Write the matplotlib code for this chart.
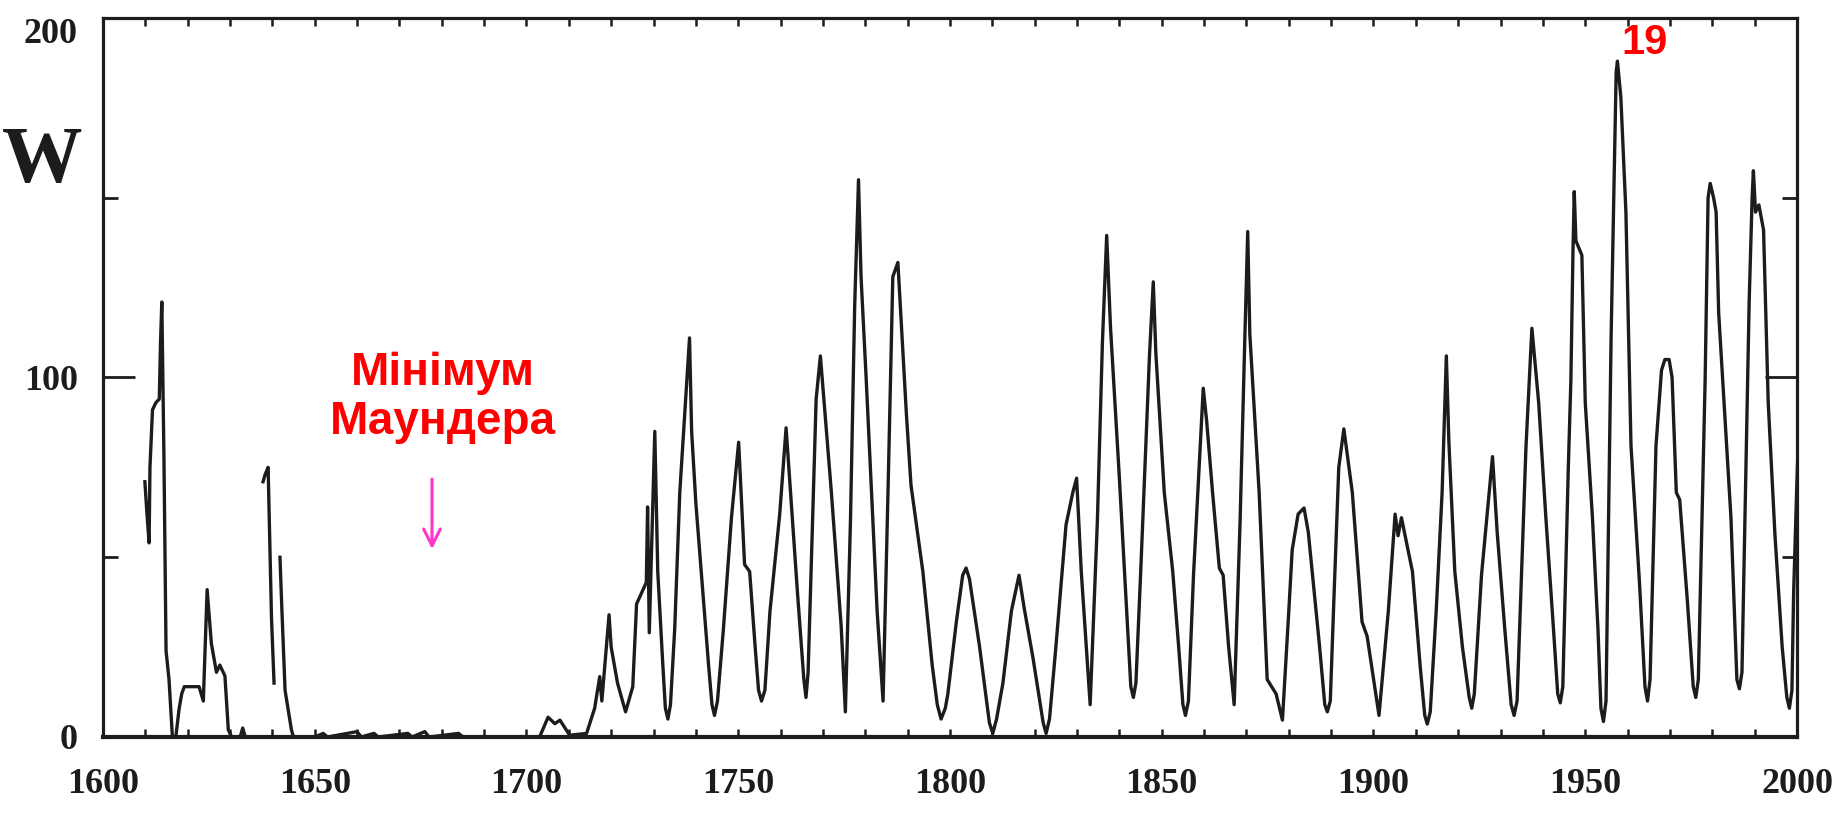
import numpy as np
import matplotlib
matplotlib.use("Agg")
from matplotlib import pyplot as plt
from matplotlib.ticker import MultipleLocator, FixedLocator

# Wolf number W (year, value); NaN = gap in the curve
years = [1609.9, 1610.4, 1610.9, 1611.1, 1611.7, 1612.5, 1613.3, 1613.6, 1613.9, 1614.2,
         1614.4, 1614.9, 1615.6, 1616.4, 1617.2, 1618.0, 1618.6, 1619.2, 1622.7, 1623.7,
         1624.1, 1624.6, 1625.6, 1626.8, 1627.6, 1628.8, 1629.6, 1630.4, 1632.4, 1633.0,
         1633.6, 1637.6, 1637.7,
         1637.8, 1638.3, 1639.0, 1639.4, 1639.8, 1640.4, 1640.5,
         1641.8, 1642.2, 1643.0, 1644.5, 1645.0,
         1650, 1652, 1653, 1660, 1661, 1664, 1665, 1672, 1673, 1676, 1677, 1684, 1685,
         1703.1, 1705.1, 1706.7, 1707.9, 1710.2, 1714.2, 1716.1, 1717.3, 1717.8, 1719.5,
         1720.0, 1721.5, 1723.4, 1725.1, 1726.0, 1728.3, 1728.6, 1729.0, 1730.3, 1731.0,
         1732.2, 1732.8, 1733.4, 1734.0, 1735.0, 1736.2, 1738.5, 1739.0, 1740.0, 1741.6,
         1743.0, 1743.8, 1744.4, 1745.1, 1746.5, 1748.4, 1750.1, 1751.5, 1752.7, 1754.0,
         1754.8, 1755.5, 1756.3, 1757.5, 1759.8, 1761.3, 1762.0, 1764.0, 1765.5, 1766.0,
         1766.5, 1767.3, 1768.4, 1769.4, 1770.5, 1772.0, 1774.3, 1775.3, 1776.5, 1777.5,
         1778.4, 1779.0, 1780.2, 1781.4, 1782.8, 1784.2, 1785.4, 1786.5, 1787.7, 1788.5,
         1789.7, 1790.8, 1793.6, 1795.8, 1797.0, 1797.9, 1798.9, 1799.5, 1801.5, 1803.0,
         1803.8, 1804.6, 1807.0, 1809.3, 1810.1, 1811.0, 1812.5, 1814.5, 1816.3, 1817.5,
         1819.6, 1822.0, 1822.7, 1823.5, 1825.0, 1827.4, 1829.0, 1829.9, 1831.0, 1833.1,
         1834.8, 1836.0, 1837.0, 1837.9, 1840.0, 1841.5, 1842.7, 1843.3, 1843.9, 1845.0,
         1847.1, 1848.0, 1848.6, 1850.6, 1852.6, 1854.0, 1855.0, 1855.6, 1856.3, 1857.5,
         1859.8, 1860.6, 1862.0, 1863.6, 1864.5, 1865.8, 1867.1, 1868.5, 1869.6, 1870.3,
         1870.8, 1873.0, 1874.9, 1877.0, 1878.5, 1880.0, 1880.8, 1882.2, 1883.6, 1884.6,
         1887.2, 1888.5, 1889.1, 1889.8, 1890.7, 1891.8, 1893.0, 1895.0, 1897.3, 1898.5,
         1901.3, 1903.5, 1905.1, 1905.8, 1906.6, 1909.2, 1911.0, 1912.1, 1912.7, 1913.4,
         1914.8, 1916.2, 1917.2, 1917.8, 1919.2, 1921.0, 1922.6, 1923.2, 1923.8, 1925.5,
         1928.1, 1929.2, 1931.0, 1932.5, 1933.2, 1933.9, 1936.0, 1937.4, 1939.0, 1940.7,
         1942.5, 1943.5, 1944.1, 1944.7, 1946.0, 1946.6, 1947.1, 1947.4, 1947.8, 1949.2,
         1950.0, 1951.7, 1953.0, 1953.7, 1954.3, 1954.9, 1956.1, 1957.3, 1957.6, 1958.4,
         1959.6, 1960.8, 1962.8, 1964.1, 1964.7, 1965.3, 1966.7, 1968.0, 1968.8, 1969.8,
         1970.5, 1971.5, 1972.3, 1974.1, 1975.5, 1976.1, 1976.7, 1978.3, 1979.0, 1979.5,
         1980.3, 1980.9, 1981.5, 1984.4, 1985.8, 1986.4, 1987.0, 1988.7, 1989.4, 1989.7,
         1990.2, 1991.0, 1992.1, 1993.2, 1994.8, 1996.5, 1997.6, 1998.2, 1998.8, 1999.2,
         1999.9, 2000.5]
W = [71, 62, 54, 75, 91, 93, 94, 110, 121, 95,
     78, 24, 16, 0, 0, 8, 12, 14, 14, 10,
     24, 41, 26, 18, 20, 17, 2, 0, 0, 2.5,
     0, 0, np.nan,
     71, 73, 75, 54, 33, 15, np.nan,
     50, 37, 13, 2, 0,
     0, 1, 0, 1.5, 0, 1, 0, 1, 0, 1.5, 0, 1, 0,
     0, 5.5, 3.7, 4.7, 0.5, 1, 8, 16.8, 10, 34,
     25, 15, 7, 14, 37, 43, 64, 29, 85, 46,
     20, 8, 5, 9, 30, 68, 111, 85, 65, 41,
     20, 9, 6, 10, 30, 61, 82, 48, 46, 25,
     13, 10, 13, 35, 62, 86, 74, 40, 16, 11,
     18, 50, 94, 106, 90, 68, 31, 7, 60, 120,
     155, 128, 100, 70, 35, 10, 70, 128, 132, 115,
     90, 70, 46, 20, 9, 5, 8, 12, 32, 45,
     47, 44, 25, 4, 1, 5, 15, 35, 45, 36,
     22, 4, 1, 5, 25, 59, 68, 72, 46, 9,
     60, 110, 139.5, 114, 72, 40, 14, 11, 15, 45,
     106, 126.6, 107, 68, 46, 25, 9, 6, 10, 45,
     97, 88, 68, 47, 45, 25, 9, 60, 110, 140.6,
     112, 68, 16, 12, 4.7, 35, 52, 62, 63.7, 57,
     26, 9, 7, 10, 40, 75, 85.7, 68, 32, 28,
     6, 35, 62, 56, 61, 46, 20, 6, 3.6, 7,
     35, 68, 106, 82, 46, 25, 11, 8, 12, 45,
     78, 57, 30, 9, 6, 10, 80.6, 113.7, 93, 61,
     30, 12, 9.5, 14, 75, 99, 135, 151.7, 138, 134,
     93, 61, 30, 8, 4.3, 10, 111, 185, 188, 178,
     146, 81, 43, 14, 10, 16, 81, 102, 105, 105,
     100, 68, 66, 38, 14, 11, 16, 99, 150, 154,
     150, 146, 118, 61, 16, 13.4, 18, 121, 150, 157.5,
     146, 148, 141, 93, 56, 25, 11, 8, 13, 40,
     68, 90]

x_major = [1600, 1650, 1700, 1750, 1800, 1850, 1900, 1950, 2000]
y_major = [0, 100, 200]
y_minor = [50, 150]

fig = plt.figure(figsize=(18.35, 8.14), dpi=100)
ax = fig.add_axes([0.0561, 0.0946, 0.9232, 0.8833])

ax.plot(years, W, color="#1c1c1c", lw=2.4, solid_joinstyle="round")

ax.set_xlim(1600, 2000)
ax.set_ylim(0, 200)

ax.xaxis.set_major_locator(FixedLocator(x_major))
ax.xaxis.set_minor_locator(MultipleLocator(10))
ax.yaxis.set_major_locator(FixedLocator(y_major))
ax.yaxis.set_minor_locator(FixedLocator(y_minor))

for s in ax.spines.values():
    s.set_linewidth(2.3)
    s.set_color("#1c1c1c")
ax.spines["bottom"].set_linewidth(3.0)

ax.tick_params(axis="x", which="both", direction="in", top=True, bottom=True,
               length=6, width=1.8, color="#1c1c1c")
ax.tick_params(axis="y", which="major", direction="in", left=True, right=True,
               length=23, width=2.0, color="#1c1c1c")
ax.tick_params(axis="y", which="minor", direction="in", left=True, right=True,
               length=11, width=2.0, color="#1c1c1c")
ax.tick_params(axis="x", which="major", pad=22)
ax.tick_params(axis="y", which="major", pad=18)

for lab in ax.get_xticklabels() + ax.get_yticklabels():
    lab.set_fontfamily("Liberation Serif")
    lab.set_fontweight("bold")
    lab.set_fontsize(26)
    lab.set_color("#1c1c1c")
ax.get_yticklabels()[-1].set_va("top")

fig.text(0.023, 0.80, "W", fontfamily="Liberation Serif", fontweight="bold",
         fontsize=58, color="#1c1c1c", ha="center", va="center")

ax.text(1680.3, 94.5, "Мінімум\nМаундера", color="#ff0000", fontsize=33,
        fontweight="bold", fontfamily="Liberation Sans", ha="center", va="center",
        linespacing=1.15)
ax.annotate("", xy=(1677.7, 51.5), xytext=(1677.7, 72.5),
            arrowprops=dict(arrowstyle="->", color="#ff33cc", lw=2.2,
                            mutation_scale=30))

ax.text(1963.9, 193, "19", color="#ff0000", fontsize=30, fontweight="bold",
        fontfamily="Liberation Sans", ha="center", va="center")

fig.savefig("out.png", dpi=100)
